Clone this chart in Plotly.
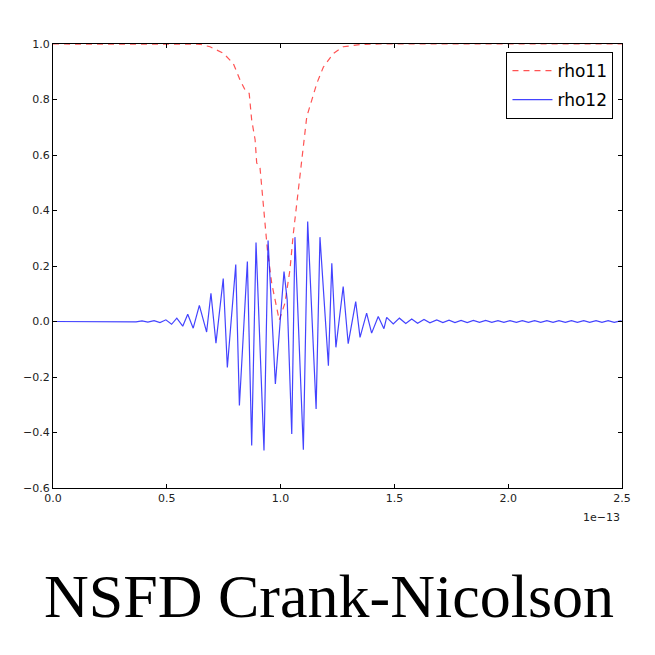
import plotly.graph_objects as go

# time in units of 1e-13 s
t_rho11 = [0.0, 0.602, 0.646, 0.690, 0.748, 0.792, 0.822, 0.844, 0.862, 0.873, 0.888, 0.895,
           0.909, 0.921, 0.931, 0.942, 0.961, 0.983, 0.994, 1.019, 1.041, 1.056, 1.071, 1.085,
           1.100, 1.115, 1.137, 1.159, 1.188, 1.232, 1.275, 1.349, 1.437, 2.5]
rho11 = [1.0, 1.0, 0.999, 0.99, 0.967, 0.93, 0.87, 0.834, 0.822, 0.726, 0.655, 0.571,
         0.559, 0.45, 0.355, 0.258, 0.138, 0.041, 0.005, 0.066, 0.186, 0.318, 0.426, 0.522,
         0.63, 0.738, 0.798, 0.858, 0.917, 0.966, 0.99, 0.998, 1.0, 1.0]

t_rho12 = [0.0, 0.25, 0.286, 0.312, 0.338, 0.365, 0.391, 0.417, 0.444, 0.470, 0.496,
           0.521, 0.544, 0.570, 0.592, 0.616, 0.643, 0.675, 0.694, 0.716, 0.748, 0.766,
           0.803, 0.819, 0.854, 0.873, 0.892, 0.927, 0.945, 0.977, 1.015, 1.029, 1.049,
           1.063, 1.100, 1.119, 1.156, 1.173, 1.210, 1.225, 1.243, 1.275, 1.297, 1.330,
           1.349, 1.378, 1.400, 1.429, 1.454, 1.466, 1.495, 1.522, 1.550, 1.576, 1.602,
           1.630, 1.656, 1.686, 1.713, 1.740, 1.766, 1.793, 1.820, 1.847, 1.874, 1.901,
           1.928, 1.955, 1.981, 2.008, 2.036, 2.062, 2.089, 2.116, 2.143, 2.170, 2.197,
           2.223, 2.251, 2.278, 2.304, 2.332, 2.358, 2.386, 2.412, 2.439, 2.466, 2.493, 2.5]
rho12 = [0.0, 0.0, 0.001, -0.0005, 0.0015, -0.001, 0.002, -0.002, 0.003, -0.004, 0.006,
         -0.010, 0.012, -0.017, 0.026, -0.024, 0.058, -0.038, 0.102, -0.078, 0.155, -0.166,
         0.205, -0.303, 0.216, -0.447, 0.285, -0.465, 0.292, -0.225, 0.18, 0.077, -0.405,
         0.304, -0.462, 0.36, -0.315, 0.304, -0.159, 0.21, -0.093, 0.126, -0.08, 0.072,
         -0.057, 0.030, -0.042, 0.018, -0.026, 0.015, -0.009, 0.012, -0.007, 0.009, -0.006,
         0.007, -0.005, 0.006, -0.004, 0.005, -0.004, 0.004, -0.004, 0.004, -0.003, 0.004,
         -0.003, 0.003, -0.003, 0.003, -0.003, 0.003, -0.003, 0.003, -0.003, 0.003, -0.003,
         0.003, -0.003, 0.003, -0.003, 0.003, -0.003, 0.003, -0.003, 0.003, -0.003, 0.002, 0.0]

x_ticks = [0.0, 0.5, 1.0, 1.5, 2.0, 2.5]
x_tick_labels = ["0.0", "0.5", "1.0", "1.5", "2.0", "2.5"]
y_ticks = [-0.6, -0.4, -0.2, 0.0, 0.2, 0.4, 0.6, 0.8, 1.0]
y_tick_labels = ["\u22120.6", "\u22120.4", "\u22120.2", "0.0", "0.2", "0.4", "0.6", "0.8", "1.0"]

fig = go.Figure()
fig.add_trace(go.Scatter(x=t_rho11, y=rho11, mode="lines", name="rho11", legendgroup="a",
                         line=dict(color="rgba(255,40,40,0.8)", width=1.2, dash="6px,5px")))
fig.add_trace(go.Scatter(x=t_rho12, y=rho12, mode="lines", name="rho12", legendgroup="b",
                         line=dict(color="rgba(20,20,255,0.8)", width=1.2)))

axis_common = dict(showgrid=False, zeroline=False, showline=True, linecolor="black", linewidth=1,
                   mirror="ticks", ticks="inside", ticklen=4, tickcolor="black",
                   tickfont=dict(family="DejaVu Sans", size=11, color="#222"))
fig.update_xaxes(range=[0, 2.5], tickvals=x_ticks, ticktext=x_tick_labels, **axis_common)
fig.update_yaxes(range=[-0.6, 1.0], tickvals=y_ticks, ticktext=y_tick_labels, **axis_common)

fig.update_layout(
    width=655, height=655,
    margin=dict(l=45, r=41, t=36, b=175),
    paper_bgcolor="white", plot_bgcolor="white",
    showlegend=True,
    legend=dict(x=0.985, y=0.982, xanchor="right", yanchor="top",
                bordercolor="black", borderwidth=1, bgcolor="white",
                font=dict(family="DejaVu Sans", size=17, color="black"),
                traceorder="grouped", tracegroupgap=4, itemwidth=40),
    annotations=[
        dict(text="1e\u221213", xref="paper", yref="paper", x=1.0, y=-0.047,
             xanchor="right", yanchor="top", showarrow=False,
             font=dict(family="DejaVu Sans", size=11, color="#222")),
        dict(text="NSFD Crank-Nicolson", xref="paper", yref="paper", x=0.485, y=-0.243,
             xanchor="center", yanchor="middle", showarrow=False,
             font=dict(family="Liberation Serif", size=62, color="black")),
    ],
)

fig.write_html("out.html")
